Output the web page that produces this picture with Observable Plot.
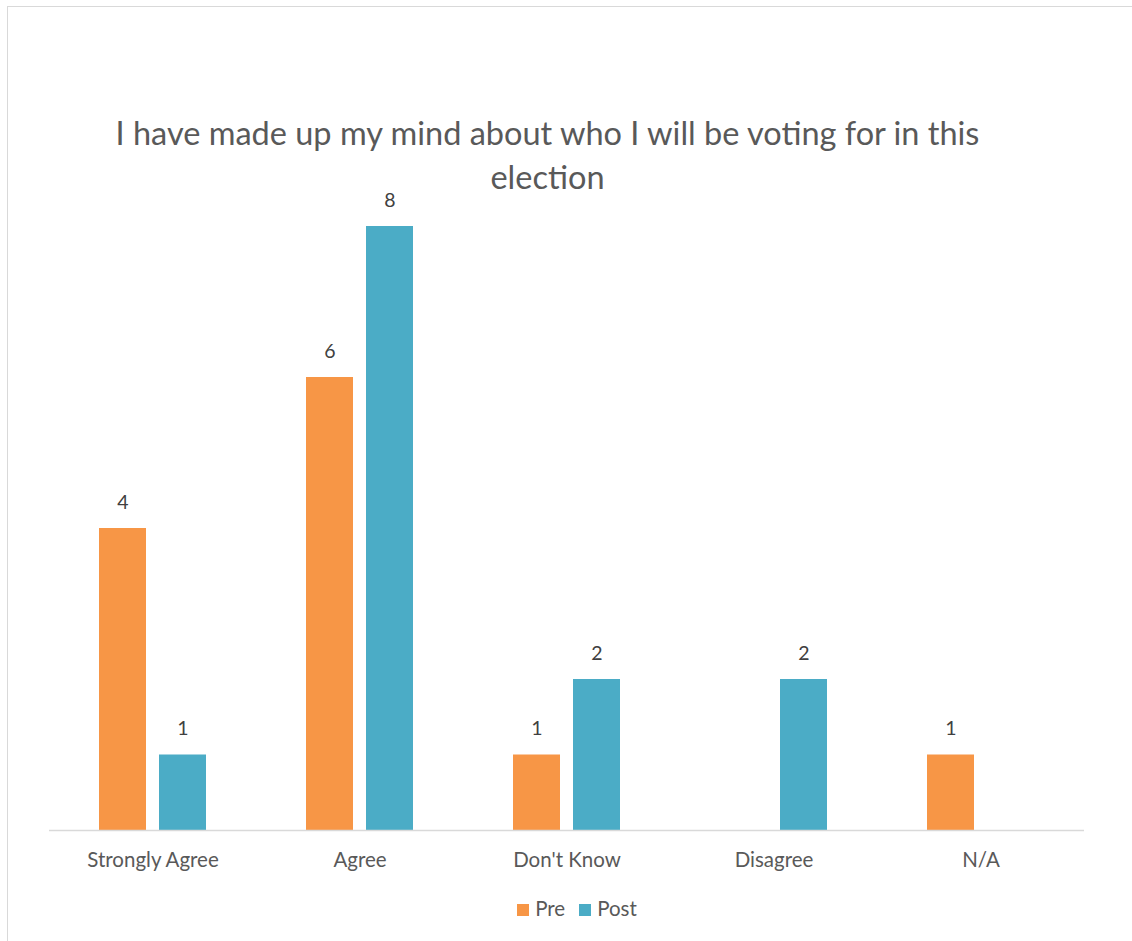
<!DOCTYPE html>
<html>
<head>
<meta charset="utf-8">
<script src="https://cdn.jsdelivr.net/npm/d3@7"></script>
<script src="https://cdn.jsdelivr.net/npm/@observablehq/plot@0.6"></script>
<style>
  html, body { margin: 0; padding: 0; background: #fff; overflow: hidden; width: 1132px; height: 941px; }
  #frame { position: absolute; left: 7px; top: 6px; width: 1200px; height: 1000px; border: 1.5px solid #d9d9d9; }
  #title { position: absolute; left: 0; top: 111px; width: 1095px; text-align: center; font-family: Lato, sans-serif; font-size: 32.5px; line-height: 44px; color: #595959; z-index: 2; }
  #chart { position: absolute; left: 0; top: 160px; }
  #legend { position: absolute; left: 0; top: 896px; width: 1154px; text-align: center; font-family: Lato, sans-serif; font-size: 20.5px; color: #595959; }
  .sw { display: inline-block; width: 12px; height: 12px; margin-right: 6px; vertical-align: 0px; }
  .item { margin: 0 7px; }
</style>
</head>
<body>
<div id="frame"></div>
<div id="chart"></div>
<div id="title">I have made up my mind about who I will be voting for in this<br>election</div>
<div id="legend"></div>
<script>
const categories = ["Strongly Agree", "Agree", "Don't Know", "Disagree", "N/A"];
const seriesNames = ["Pre", "Post"];
const preValues = [4, 6, 1, null, 1];
const postValues = [1, 8, 2, 2, null];
const colors = ["#F79646", "#4BACC6"];

const rows = [];
categories.forEach((c, i) => {
  rows.push({category: c, series: "Pre", value: preValues[i]});
  rows.push({category: c, series: "Post", value: postValues[i]});
});
const present = rows.filter(d => d.value != null);

const plot = Plot.plot({
  width: 1132,
  height: 720,
  marginLeft: 48,
  marginRight: 47,
  marginTop: 66,
  marginBottom: 50,
  style: {fontFamily: "Lato, sans-serif", fontSize: "20.5px", color: "#595959", background: "transparent"},
  fx: {domain: categories, padding: 0, label: null, axis: "bottom", tickSize: 0, tickPadding: 22},
  x: {domain: seriesNames, paddingInner: 0.2167, paddingOuter: 0.833, axis: null},
  y: {domain: [0, 8], axis: null},
  color: {domain: seriesNames, range: colors},
  marks: [
    Plot.barY(present, {fx: "category", x: "series", y: "value", fill: "series"}),
    Plot.text(present, {fx: "category", x: "series", y: "value", text: d => String(d.value), dy: -26, fill: "#404040", fontSize: 19.5}),
    Plot.ruleY([0], {stroke: "#d9d9d9", strokeWidth: 1.5})
  ]
});
document.getElementById("chart").appendChild(plot);

const legend = document.getElementById("legend");
seriesNames.forEach((s, i) => {
  const span = document.createElement("span");
  span.className = "item";
  span.innerHTML = `<span class="sw" style="background:${colors[i]}"></span>${s}`;
  legend.appendChild(span);
});
</script>
</body>
</html>
